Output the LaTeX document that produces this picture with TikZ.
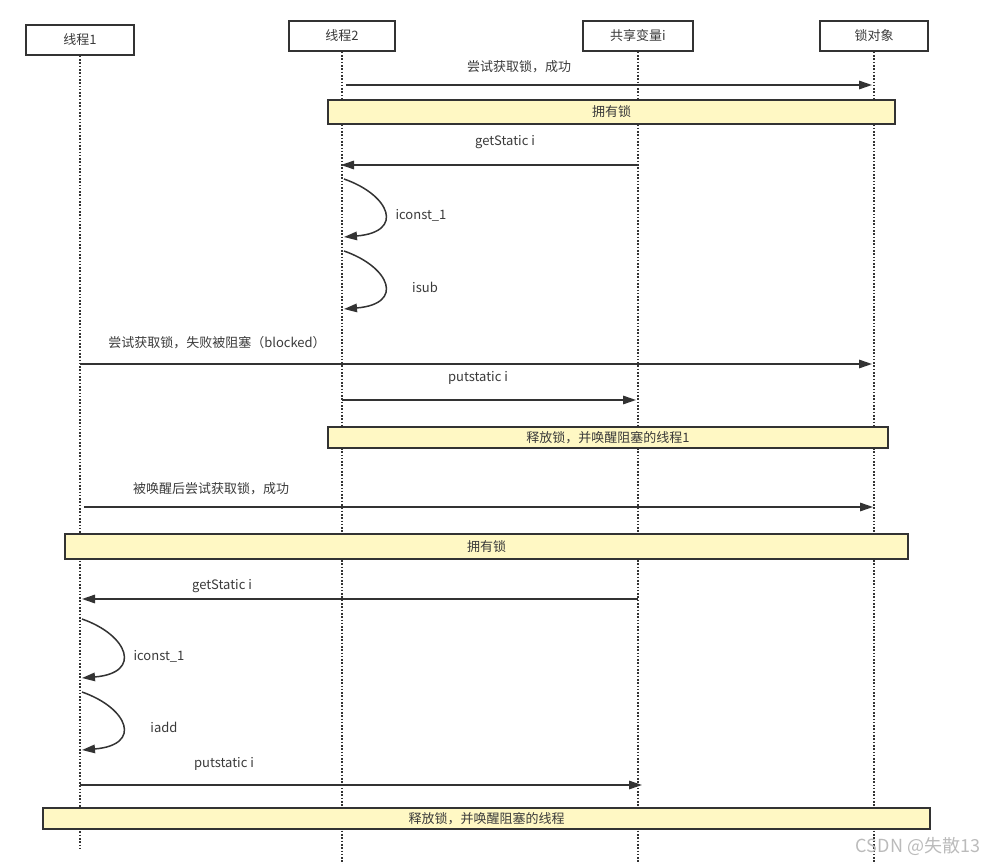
\documentclass[tikz,border=0pt]{standalone}
\usepackage{fontspec}
\setmainfont{Noto Sans CJK SC}
\usetikzlibrary{arrows.meta}
\definecolor{ink}{HTML}{333333}
\definecolor{txt}{HTML}{3A3A3A}
\definecolor{notefill}{HTML}{FFF8C4}
\definecolor{wmgray}{HTML}{BBBBBB}
\begin{document}
\begin{tikzpicture}[x=1pt,y=-1pt,
  head/.style={draw=ink, line width=1.8pt, fill=white, minimum height=30pt, inner sep=0pt, font=\fontsize{13}{15}\selectfont, text=txt},
  life/.style={draw=ink, line width=1.6pt, dash pattern=on 1.6pt off 1.7pt},
  msg/.style={draw=ink, line width=1.5pt, -{Triangle[length=13pt,width=8.5pt]}},
  lbl/.style={font=\fontsize{13}{15}\selectfont, text=txt, inner sep=0pt},
  notebox/.style={draw=ink, line width=1.8pt, fill=notefill, inner sep=0pt, font=\fontsize{13}{15}\selectfont, text=txt}]
\useasboundingbox (0,0) rectangle (988,864);

% headers
\node[head, minimum width=108pt] (h1) at (80,40) {线程1};
\node[head, minimum width=106pt] (h2) at (342,36) {线程2};
\node[head, minimum width=110pt] (h3) at (638,36) {共享变量i};
\node[head, minimum width=108pt] (h4) at (874,36) {锁对象};

% lifeline ends
\coordinate (e1) at (80,848);
\coordinate (e2) at (342,866);
\coordinate (e3) at (638,866);
\coordinate (e4) at (874,866);
\draw[life] (h1.south) -- (e1);
\draw[life] (h2.south) -- (e2);
\draw[life] (h3.south) -- (e3);
\draw[life] (h4.south) -- (e4);

% note boxes
\node[notebox, minimum width=567pt, minimum height=24pt] (n1) at (611.5,112) {拥有锁};
\node[notebox, minimum width=560pt, minimum height=21pt] (n2) at (608,437.5) {释放锁，并唤醒阻塞的线程1};
\node[notebox, minimum width=843pt, minimum height=25pt] (n3) at (486.5,546.5) {拥有锁};
\node[notebox, minimum width=887pt, minimum height=21pt] (n4) at (486.5,818.5) {释放锁，并唤醒阻塞的线程};

% message rows
\coordinate (r1) at (0,85);
\coordinate (r2) at (0,165);
\coordinate (r3) at (0,364);
\coordinate (r4) at (0,400);
\coordinate (r5) at (0,507);
\coordinate (r6) at (0,599);
\coordinate (r7) at (0,785);

\draw[msg, shorten <=4pt, shorten >=2pt] (h2.south |- r1) -- (h4.south |- r1);
\node[lbl] (t1) at (519,67) {尝试获取锁，成功};

\draw[msg, shorten >=-1pt] (h3.south |- r2) -- (h2.south |- r2);
\node[lbl] (t2) at (505,142) {getStatic i};

% thread 2 self loops
\coordinate (a1) at (344,179);
\coordinate (a2) at (344,237);
\coordinate (b1) at (344,251);
\coordinate (b2) at (344,309);
\draw[msg] (a1) .. controls (390,195) and (405,232) .. (a2);
\node[lbl] (t3) at (421,215) {iconst\_1};
\draw[msg] (b1) .. controls (390,267) and (405,304) .. (b2);
\node[lbl] (t4) at (425,287) {isub};

\draw[msg, shorten >=2pt] (h1.south |- r3) -- (h4.south |- r3);
\node[lbl] (t5) at (217,343) {尝试获取锁，失败被阻塞（blocked）};

\draw[msg, shorten >=2pt] (h2.south |- r4) -- (h3.south |- r4);
\node[lbl] (t6) at (478,378) {putstatic i};

\draw[msg, shorten <=4pt, shorten >=1pt] (h1.south |- r5) -- (h4.south |- r5);
\node[lbl] (t7) at (211,489) {被唤醒后尝试获取锁，成功};

\draw[msg, shorten >=2pt] (h3.south |- r6) -- (h1.south |- r6);
\node[lbl] (t8) at (222,586) {getStatic i};

% thread 1 self loops
\coordinate (c1) at (82,619);
\coordinate (c2) at (82,678);
\coordinate (d1) at (82,692);
\coordinate (d2) at (82,750);
\draw[msg] (c1) .. controls (128,635) and (143,673) .. (c2);
\node[lbl] (t9) at (159,656) {iconst\_1};
\draw[msg] (d1) .. controls (128,708) and (143,745) .. (d2);
\node[lbl] (t10) at (164,727) {iadd};

\draw[msg, shorten >=-4pt] (h1.south |- r7) -- (h3.south |- r7);
\node[lbl] (t11) at (224,764) {putstatic i};

% watermark
\node[font=\fontsize{18}{20}\selectfont, text=wmgray, inner sep=0pt] (wmk) at (918,846) {CSDN @失散13};
\end{tikzpicture}
\end{document}
